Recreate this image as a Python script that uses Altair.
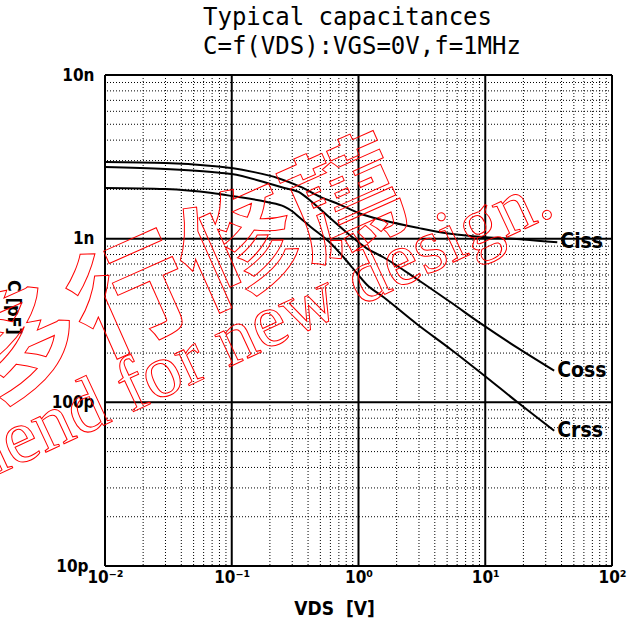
import altair as alt
import pandas as pd

# ---------------- data ----------------
ciss_v = [0.01, 0.03, 0.07, 0.1, 0.15, 0.23, 0.35, 0.5, 0.72, 1.0, 1.6, 3.0, 5.3, 10, 20, 37]
ciss_c = [2940, 2900, 2780, 2700, 2550, 2350, 2070, 1800, 1610, 1435, 1290, 1160, 1070, 1020, 990, 950]

coss_v = [0.01, 0.03, 0.07, 0.1, 0.19, 0.26, 0.35, 0.42, 0.47, 0.57, 0.82, 1.17, 1.57, 2.9, 5.3, 9.7, 18, 35]
coss_c = [2740, 2665, 2555, 2485, 2190, 2040, 1900, 1700, 1580, 1380, 1080, 870, 770, 565, 410, 295, 215, 156]

crss_v = [0.01, 0.03, 0.07, 0.1, 0.19, 0.26, 0.3, 0.35, 0.42, 0.55, 0.6, 0.86, 1.17, 1.57, 2.9, 5.3, 9.7, 18, 35]
crss_c = [2040, 2010, 1900, 1823, 1675, 1570, 1470, 1330, 1178, 1000, 942, 690, 521, 440, 300, 212, 147, 100, 67]

series_names = ["Ciss", "Coss", "Crss"]

x_ticks = [0.01, 0.1, 1, 10, 100]
x_labels = ["10⁻²", "10⁻¹", "10⁰", "10¹", "10²"]
y_ticks = [10, 100, 1000, 10000]          # pF
y_labels = ["10p", "100p", "1n", "10n"]
minor_mult = [2, 3, 4, 5, 6, 7, 8, 9]

title_lines = ["Typical capacitances", "C=f(VDS):VGS=0V,f=1MHz"]
x_title = "VDS\u00a0\u00a0[V]"
y_title = "C [pF]"
watermark_en = "Not recommend for new design."
watermark_zh = "多行修薦"

# ---------------- tables ----------------
rows = []
for name, vs, cs in zip(series_names, [ciss_v, coss_v, crss_v], [ciss_c, coss_c, crss_c]):
    for i, (v, c) in enumerate(zip(vs, cs)):
        rows.append({"name": name, "v": v, "c": c, "i": i})
curves = pd.DataFrame(rows)
ends = curves.sort_values("i").groupby("name").tail(1)

xmaj = pd.DataFrame({"v": x_ticks})
ymaj = pd.DataFrame({"c": y_ticks})
xmin = pd.DataFrame({"v": [d * m for d in x_ticks[:-1] for m in minor_mult]})
ymin = pd.DataFrame({"c": [d * m for d in y_ticks[:-1] for m in minor_mult]})


def label_expr(ticks, labels):
    s = ""
    for a, b, lab in zip(ticks[:-1], ticks[1:], labels[:-1]):
        s += f"datum.value < {(a * b) ** 0.5} ? '{lab}' : "
    return s + f"'{labels[-1]}'"


xs = alt.Scale(type="log", domain=[x_ticks[0], x_ticks[-1]], nice=False)
ys = alt.Scale(type="log", domain=[y_ticks[0], y_ticks[-1]], nice=False)

LBL_FONT = "Liberation Sans Narrow, DejaVu Sans Condensed, Liberation Sans"

x_axis = alt.Axis(values=x_ticks, labelExpr=label_expr(x_ticks, x_labels), grid=False,
                  ticks=False, domain=False, labelFont=LBL_FONT, labelFontSize=17,
                  labelFontWeight="bold", labelColor="black", labelPadding=3,
                  labelFlush=False, labelOverlap=False,
                  title=x_title, titleFont=LBL_FONT, titleFontSize=19, titleFontWeight="bold",
                  titleColor="black", titlePadding=14, titleX=229, titleAlign="center")
y_axis = alt.Axis(values=y_ticks, labelExpr=label_expr(y_ticks, y_labels), grid=False,
                  ticks=False, domain=False, labelFont=LBL_FONT, labelFontSize=17,
                  labelFontWeight="bold", labelColor="black",
                  labelPadding={"condition": {"test": "datum.value < 20", "value": 17}, "value": 11},
                  labelFlush=False, labelOverlap=False, labelBaseline="middle",
                  title=y_title, titleFont=LBL_FONT, titleFontSize=18, titleFontWeight="bold",
                  titleColor="black", titleAngle=90, titleX=-93, titleY=232,
                  titleAlign="center", titleBaseline="middle")

lines = alt.Chart(curves).mark_line(color="black", strokeWidth=2, interpolate="monotone").encode(
    x=alt.X("v:Q", scale=xs, axis=x_axis),
    y=alt.Y("c:Q", scale=ys, axis=y_axis),
    detail="name:N",
    order="i:Q",
)

minor_x = alt.Chart(xmin).mark_rule(color="black", strokeWidth=1, strokeDash=[1, 2]).encode(
    x=alt.X("v:Q", scale=xs))
minor_y = alt.Chart(ymin).mark_rule(color="black", strokeWidth=1, strokeDash=[1, 2]).encode(
    y=alt.Y("c:Q", scale=ys))
major_x = alt.Chart(xmaj).mark_rule(color="black", strokeWidth=2).encode(
    x=alt.X("v:Q", scale=xs))
major_y = alt.Chart(ymaj).mark_rule(color="black", strokeWidth=2).encode(
    y=alt.Y("c:Q", scale=ys))

labels = alt.Chart(ends).mark_text(align="left", baseline="middle", dx=3, font=LBL_FONT,
                                   fontSize=21, fontWeight="bold", color="black").encode(
    x=alt.X("v:Q", scale=xs),
    y=alt.Y("c:Q", scale=ys),
    text="name:N",
)

wm_en = alt.Chart(pd.DataFrame({"t": [watermark_en]})).mark_text(
    align="right", baseline="alphabetic", angle=335, font="Liberation Serif", fontSize=76,
    fill="red", fillOpacity=0, stroke="red", strokeWidth=1).encode(
    x=alt.value(452), y=alt.value(139), text="t:N")

wm_zh = alt.Chart(pd.DataFrame({"t": [watermark_zh]})).mark_text(
    align="center", baseline="middle", angle=336, font="Noto Sans CJK TC", fontSize=118,
    fontWeight="bold", fill="red", fillOpacity=0, stroke="red", strokeWidth=1).encode(
    x=alt.value(82), y=alt.value(203), text="t:N")

chart = alt.layer(lines, minor_x, minor_y, major_x, major_y, labels, wm_zh, wm_en).properties(
    width=507, height=491,
    autosize=alt.AutoSizeParams(type="none"),
    padding={"left": 105, "top": 75, "right": 24, "bottom": 62},
    title=alt.TitleParams(text=title_lines, anchor="start", frame="group", dx=98,
                          font="DejaVu Sans Mono", fontSize=24, fontWeight="normal",
                          color="black", lineHeight=29, offset=7),
).configure_view(stroke="black", strokeWidth=2).configure(background="white")

chart.save("out.html", embed_options={"renderer": "svg", "actions": False})
